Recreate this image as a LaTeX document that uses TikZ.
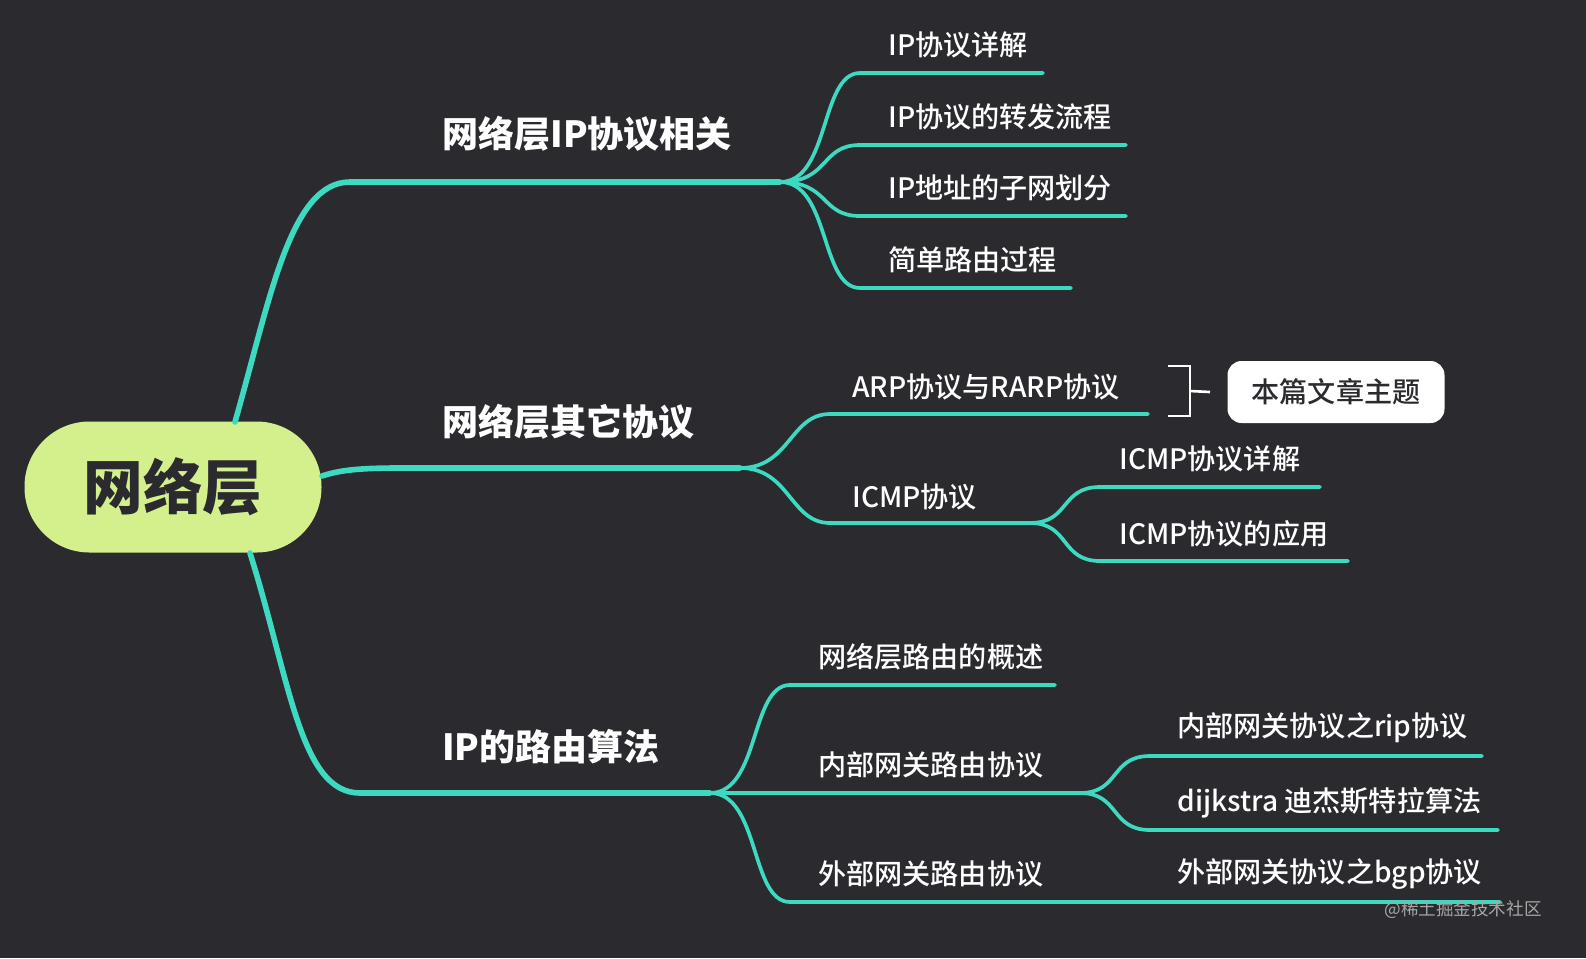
\documentclass[tikz,border=0pt]{standalone}
\usepackage{fontspec}
\setmainfont{Noto Sans CJK SC}
\newfontfamily\medfont{Noto Sans CJK SC Medium}
\definecolor{bg}{HTML}{2B2A2F}
\definecolor{teal}{HTML}{3DD9C1}
\definecolor{lime}{HTML}{D4F08C}
\tikzset{
  main/.style={draw=teal,line width=3.2pt,line cap=round},
  sub/.style={draw=teal,line width=2.1pt,line cap=round},
  big/.style={anchor=west,text=white,font=\fontsize{20.5}{24}\selectfont\bfseries,inner sep=0pt},
  leaf/.style={anchor=west,text=white,font=\fontsize{16}{19}\selectfont\medfont,inner sep=0pt}
}
\begin{document}
\begin{tikzpicture}[x=0.02cm,y=-0.02cm]
	\fill[bg] (0,0) rectangle (1586,958);
	% root
	\node[fill=lime,rounded corners=65*0.02cm,minimum width=297*0.02cm,minimum height=131*0.02cm,
	  font=\fontsize{34}{40}\selectfont\bfseries,text=bg] (root) at (173,487) {网络层};
	% junctions
	\coordinate (j1) at (780,182);
	\coordinate (j2) at (740,468);
	\coordinate (j3) at (710,793);
	\coordinate (j4) at (1030,523);
	\coordinate (j5) at (1080,793);
	% main branches
	\draw[main] (235,422) .. controls (270,300) and (290,182) .. (350,182) -- (j1);
	\draw[main] (322,476) .. controls (340,470) and (360,468) .. (400,468) -- (j2);
	\draw[main] (250,553) .. controls (290,680) and (300,793) .. (360,793) -- (j3);
	\node[big] (n1) at (442,134) {网络层IP协议相关};
	\node[big] (n2) at (442,422) {网络层其它协议};
	\node[big] (n3) at (442,747) {IP的路由算法};
	% branch 1
	\foreach \y/\e/\t [count=\i] in {73/1043/IP协议详解,145/1126/IP协议的转发流程,216/1126/IP地址的子网划分,288/1071/简单路由过程}{
		\coordinate (a\i) at (860,\y);
		\draw[sub] (j1) .. controls (830,182) and (820,\y) .. (a\i) -- (\e,\y);
		\node[leaf] (l1\i) at (888,\y-28) {\t};
	}
	% branch 2
	\coordinate (b1) at (830,414);
	\coordinate (b2) at (830,523);
	\draw[sub] (j2) .. controls (790,468) and (790,414) .. (b1) -- (1148,414);
	\draw[sub] (j2) .. controls (790,468) and (790,523) .. (b2) -- (j4);
	\node[leaf] (l21) at (852,387) {ARP协议与RARP协议};
	\node[leaf] (l22) at (852,497) {ICMP协议};
	\coordinate (c1) at (1100,487);
	\coordinate (c2) at (1100,561);
	\draw[sub] (j4) .. controls (1070,523) and (1060,487) .. (c1) -- (1320,487);
	\draw[sub] (j4) .. controls (1070,523) and (1060,561) .. (c2) -- (1348,561);
	\node[leaf] (l23) at (1119,459) {ICMP协议详解};
	\node[leaf] (l24) at (1119,534) {ICMP协议的应用};
	% note
	\draw[white,line width=1.5pt] (1168,366) -- (1190,366) -- (1190,416) -- (1168,416);
	\coordinate (k) at (1190,391);
	\node[fill=white,rounded corners=8pt,minimum width=217*0.02cm,minimum height=62*0.02cm,
	  text=bg,font=\fontsize{16}{19}\selectfont\medfont] (note) at (1336,392) {本篇文章主题};
	\draw[white,line width=1.5pt] (k) -- (note.west -| 1210,0);
	% branch 3
	\coordinate (d1) at (790,685);
	\coordinate (d3) at (790,902);
	\draw[sub] (j3) .. controls (760,793) and (750,685) .. (d1) -- (1055,685);
	\draw[sub] (j3) -- (j5);
	\draw[sub] (j3) .. controls (760,793) and (750,902) .. (d3) -- (1500,902);
	\node[leaf] (l31) at (818,657) {网络层路由的概述};
	\node[leaf] (l32) at (818,765) {内部网关路由协议};
	\node[leaf] (l33) at (818,874) {外部网关路由协议};
	\node[leaf] (l36) at (1177,874) {外部网关协议之bgp协议};
	\coordinate (e1) at (1150,756);
	\coordinate (e2) at (1150,830);
	\draw[sub] (j5) .. controls (1120,793) and (1110,756) .. (e1) -- (1482,756);
	\draw[sub] (j5) .. controls (1120,793) and (1110,830) .. (e2) -- (1498,830);
	\node[leaf] (l34) at (1177,728) {内部网关协议之rip协议};
	\node[leaf] (l35) at (1177,803) {dijkstra 迪杰斯特拉算法};
	\node[anchor=east,text=gray!70,font=\fontsize{10}{12}\selectfont,inner sep=0pt] (wm) at (1542,910) {@稀土掘金技术社区};
\end{tikzpicture}
\end{document}
